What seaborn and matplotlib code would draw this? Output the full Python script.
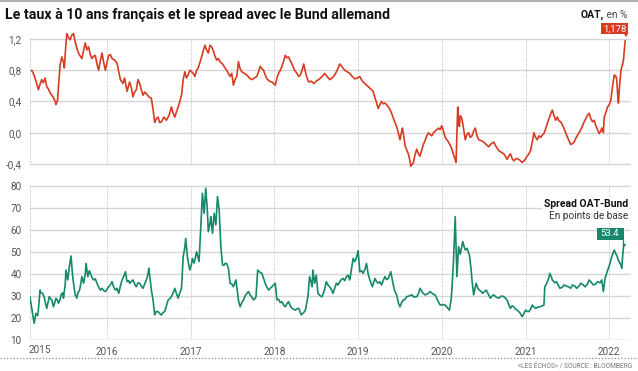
import matplotlib
matplotlib.use("Agg")
import matplotlib.pyplot as plt
import seaborn as sns
import pandas as pd
from matplotlib.lines import Line2D
from matplotlib.patches import Rectangle, Polygon

# ---------------- data (decimal year, value) ----------------
oat = [
 (2015.10,0.80),(2015.12,0.76),(2015.14,0.70),(2015.16,0.63),(2015.18,0.55),(2015.20,0.62),
 (2015.22,0.68),(2015.24,0.64),(2015.26,0.70),(2015.28,0.59),(2015.30,0.56),(2015.32,0.51),
 (2015.34,0.48),(2015.36,0.45),(2015.38,0.40),(2015.39,0.36),(2015.41,0.42),(2015.42,0.59),
 (2015.44,0.87),(2015.46,0.97),(2015.48,0.90),(2015.49,0.83),(2015.51,1.15),(2015.52,1.27),
 (2015.54,1.22),(2015.56,1.19),(2015.58,1.25),(2015.60,1.27),(2015.62,1.16),(2015.64,1.08),
 (2015.66,1.02),(2015.68,0.98),(2015.70,0.95),(2015.72,1.05),(2015.74,1.15),(2015.76,1.06),
 (2015.78,1.10),(2015.80,1.00),(2015.82,0.95),(2015.84,0.98),(2015.86,0.99),(2015.88,0.88),
 (2015.90,0.80),(2015.92,0.92),(2015.94,1.02),(2015.96,0.90),(2015.98,0.80),(2016.00,0.90),
 (2016.02,0.99),(2016.04,1.00),(2016.06,0.95),(2016.09,0.93),(2016.12,0.89),(2016.14,0.78),
 (2016.16,0.68),(2016.19,0.63),(2016.21,0.70),(2016.24,0.53),(2016.27,0.65),(2016.29,0.58),
 (2016.31,0.46),(2016.33,0.52),(2016.35,0.55),(2016.37,0.68),(2016.39,0.63),(2016.41,0.55),
 (2016.43,0.48),(2016.45,0.52),(2016.47,0.50),(2016.50,0.46),(2016.53,0.44),(2016.55,0.30),
 (2016.57,0.13),(2016.59,0.18),(2016.61,0.20),(2016.63,0.13),(2016.65,0.14),(2016.68,0.20),
 (2016.71,0.16),(2016.74,0.22),(2016.77,0.33),(2016.79,0.25),(2016.81,0.20),(2016.83,0.27),
 (2016.85,0.33),(2016.87,0.40),(2016.89,0.48),(2016.91,0.68),(2016.93,0.78),(2016.95,0.70),
 (2016.97,0.74),(2016.99,0.80),(2017.01,0.78),(2017.03,0.76),(2017.05,0.72),(2017.07,0.80),
 (2017.09,0.83),(2017.11,0.90),(2017.13,0.97),(2017.15,1.05),(2017.17,1.12),(2017.19,1.06),
 (2017.21,1.02),(2017.23,1.12),(2017.25,1.10),(2017.27,1.05),(2017.29,0.98),(2017.31,0.93),
 (2017.33,0.95),(2017.35,0.91),(2017.38,0.88),(2017.41,0.83),(2017.44,0.78),(2017.47,0.72),
 (2017.49,0.76),(2017.51,0.61),(2017.53,0.68),(2017.55,0.72),(2017.57,0.91),(2017.59,0.82),
 (2017.61,0.78),(2017.64,0.76),(2017.67,0.74),(2017.70,0.70),(2017.73,0.68),(2017.76,0.70),
 (2017.79,0.72),(2017.81,0.78),(2017.83,0.85),(2017.85,0.82),(2017.87,0.80),(2017.89,0.74),
 (2017.91,0.69),(2017.94,0.66),(2017.97,0.65),(2017.99,0.63),(2018.01,0.61),(2018.03,0.70),
 (2018.05,0.76),(2018.07,0.80),(2018.09,0.85),(2018.11,0.92),(2018.13,0.99),(2018.15,0.96),
 (2018.17,0.97),(2018.19,0.92),(2018.21,0.88),(2018.24,0.80),(2018.27,0.76),(2018.29,0.72),
 (2018.31,0.74),(2018.33,0.80),(2018.35,0.88),(2018.37,0.78),(2018.39,0.70),(2018.41,0.65),
 (2018.44,0.66),(2018.47,0.63),(2018.50,0.66),(2018.54,0.69),(2018.57,0.72),(2018.60,0.76),
 (2018.63,0.72),(2018.66,0.68),(2018.69,0.70),(2018.72,0.74),(2018.75,0.80),(2018.78,0.88),
 (2018.81,0.84),(2018.84,0.80),(2018.87,0.78),(2018.90,0.76),(2018.93,0.72),(2018.96,0.69),
 (2018.99,0.70),(2019.02,0.72),(2019.05,0.66),(2019.08,0.63),(2019.11,0.60),(2019.14,0.57),
 (2019.16,0.55),(2019.18,0.53),(2019.20,0.45),(2019.21,0.42),(2019.24,0.31),(2019.26,0.36),
 (2019.28,0.40),(2019.30,0.37),(2019.32,0.38),(2019.34,0.36),(2019.36,0.33),(2019.38,0.30),
 (2019.40,0.25),(2019.43,0.16),(2019.46,0.08),(2019.48,0.00),(2019.50,-0.09),(2019.52,0.02),
 (2019.53,0.06),(2019.55,-0.08),(2019.56,-0.16),(2019.58,-0.22),(2019.60,-0.27),(2019.62,-0.36),
 (2019.63,-0.43),(2019.65,-0.40),(2019.66,-0.38),(2019.68,-0.28),(2019.70,-0.21),(2019.72,-0.27),
 (2019.74,-0.30),(2019.76,-0.22),(2019.78,-0.15),(2019.80,-0.10),(2019.82,-0.04),(2019.84,0.00),
 (2019.86,-0.02),(2019.88,-0.04),(2019.90,0.00),(2019.92,0.02),(2019.94,0.04),(2019.96,0.06),
 (2019.98,0.04),(2020.00,0.09),(2020.02,0.02),(2020.04,-0.06),(2020.06,-0.09),(2020.08,-0.12),
 (2020.10,-0.16),(2020.12,-0.21),(2020.14,-0.28),(2020.16,-0.34),(2020.17,-0.38),(2020.19,0.33),
 (2020.20,0.15),(2020.21,0.08),(2020.22,0.22),(2020.24,0.18),(2020.26,0.05),(2020.28,-0.09),
 (2020.30,-0.02),(2020.32,0.00),(2020.34,-0.06),(2020.36,-0.04),(2020.38,0.02),(2020.40,0.06),
 (2020.42,-0.04),(2020.44,-0.09),(2020.47,-0.10),(2020.50,-0.12),(2020.53,-0.15),(2020.56,-0.18),
 (2020.59,-0.14),(2020.62,-0.12),(2020.65,-0.18),(2020.68,-0.23),(2020.71,-0.25),(2020.74,-0.27),
 (2020.76,-0.30),(2020.78,-0.34),(2020.80,-0.30),(2020.82,-0.27),(2020.84,-0.33),(2020.86,-0.36),
 (2020.89,-0.33),(2020.92,-0.34),(2020.94,-0.36),(2020.96,-0.38),(2020.99,-0.35),(2021.02,-0.30),
 (2021.04,-0.27),(2021.06,-0.23),(2021.08,-0.12),(2021.10,0.00),(2021.12,-0.06),(2021.14,-0.09),
 (2021.16,-0.04),(2021.18,-0.06),(2021.20,-0.03),(2021.22,-0.01),(2021.24,0.05),(2021.26,0.12),
 (2021.28,0.18),(2021.30,0.24),(2021.32,0.29),(2021.34,0.22),(2021.36,0.16),(2021.38,0.20),
 (2021.40,0.15),(2021.42,0.14),(2021.45,0.08),(2021.48,0.00),(2021.51,-0.08),(2021.54,-0.15),
 (2021.56,-0.14),(2021.58,-0.12),(2021.61,-0.05),(2021.64,0.00),(2021.67,0.06),(2021.70,0.14),
 (2021.72,0.18),(2021.74,0.22),(2021.76,0.25),(2021.78,0.18),(2021.80,0.14),(2021.82,0.16),
 (2021.84,0.09),(2021.86,0.04),(2021.88,-0.01),(2021.90,0.02),(2021.91,0.06),(2021.93,0.00),
 (2021.94,0.20),(2021.96,0.26),(2021.98,0.33),(2022.00,0.36),(2022.02,0.42),(2022.04,0.60),
 (2022.06,0.74),(2022.08,0.72),(2022.09,0.68),(2022.10,0.50),(2022.11,0.38),(2022.12,0.55),
 (2022.14,0.80),(2022.16,0.88),(2022.17,0.93),(2022.18,1.05),(2022.19,1.178),
]

spread = [
 (2015.08,29.7),(2015.09,27.0),(2015.11,22.1),(2015.13,17.6),(2015.15,22.1),(2015.17,21.0),
 (2015.18,23.6),(2015.20,32.7),(2015.21,31.5),(2015.23,31.2),(2015.25,29.5),(2015.26,27.4),
 (2015.28,24.4),(2015.30,28.0),(2015.31,29.7),(2015.33,28.6),(2015.34,28.2),(2015.36,25.1),
 (2015.38,27.5),(2015.39,29.0),(2015.41,28.0),(2015.42,26.7),(2015.44,28.5),(2015.45,30.5),
 (2015.47,31.5),(2015.48,29.0),(2015.50,35.0),(2015.51,41.8),(2015.53,37.3),(2015.55,43.3),
 (2015.57,48.2),(2015.59,38.8),(2015.61,33.0),(2015.62,30.5),(2015.64,29.0),(2015.65,31.2),
 (2015.67,32.5),(2015.68,34.2),(2015.70,38.8),(2015.72,35.8),(2015.74,40.0),(2015.75,44.8),
 (2015.77,38.8),(2015.79,41.5),(2015.80,40.3),(2015.82,38.5),(2015.84,37.3),(2015.86,37.8),
 (2015.88,35.8),(2015.90,34.0),(2015.92,32.7),(2015.94,33.5),(2015.96,32.5),(2015.98,32.0),
 (2016.00,33.0),(2016.02,34.2),(2016.04,35.0),(2016.06,36.5),(2016.08,34.0),(2016.10,32.7),
 (2016.12,33.5),(2016.14,31.2),(2016.16,34.5),(2016.18,37.3),(2016.20,39.0),(2016.22,41.0),
 (2016.24,36.5),(2016.26,37.0),(2016.27,35.8),(2016.29,36.5),(2016.31,37.3),(2016.33,35.5),
 (2016.35,34.2),(2016.37,36.0),(2016.39,35.8),(2016.41,34.5),(2016.43,33.5),(2016.45,35.5),
 (2016.47,37.3),(2016.49,40.0),(2016.50,42.6),(2016.52,36.0),(2016.53,32.7),(2016.55,28.2),
 (2016.57,21.4),(2016.59,23.0),(2016.61,22.9),(2016.63,22.0),(2016.65,21.4),(2016.67,22.5),
 (2016.69,22.9),(2016.71,25.5),(2016.73,28.2),(2016.75,28.8),(2016.77,29.7),(2016.79,31.5),
 (2016.81,33.5),(2016.83,31.0),(2016.85,29.0),(2016.87,31.5),(2016.89,33.5),(2016.91,47.9),
 (2016.93,52.0),(2016.94,56.2),(2016.96,47.9),(2016.98,43.5),(2016.99,41.8),(2017.01,44.5),
 (2017.02,47.1),(2017.04,45.0),(2017.05,46.4),(2017.07,50.1),(2017.09,47.0),(2017.10,45.6),
 (2017.12,60.8),(2017.14,76.7),(2017.15,72.0),(2017.16,67.6),(2017.18,79.0),(2017.20,68.0),
 (2017.21,59.2),(2017.23,63.0),(2017.24,66.1),(2017.26,58.5),(2017.28,67.6),(2017.30,62.3),
 (2017.32,75.2),(2017.34,69.1),(2017.36,52.4),(2017.38,44.1),(2017.40,44.0),(2017.41,44.8),
 (2017.43,44.8),(2017.45,42.6),(2017.47,35.8),(2017.49,35.5),(2017.51,34.2),(2017.54,37.3),
 (2017.57,28.2),(2017.59,25.1),(2017.61,27.0),(2017.63,28.2),(2017.65,30.0),(2017.67,31.2),
 (2017.69,32.0),(2017.71,30.5),(2017.73,29.5),(2017.75,28.2),(2017.77,29.0),(2017.78,29.7),
 (2017.80,41.8),(2017.82,41.0),(2017.85,40.3),(2017.87,38.0),(2017.89,35.8),(2017.91,34.0),
 (2017.93,32.7),(2017.95,33.5),(2017.97,34.2),(2017.99,35.0),(2018.01,35.8),(2018.03,28.2),
 (2018.05,28.5),(2018.07,27.0),(2018.09,27.4),(2018.11,26.0),(2018.13,25.1),(2018.15,26.5),
 (2018.17,27.4),(2018.19,25.5),(2018.21,24.4),(2018.23,24.0),(2018.25,23.6),(2018.27,24.2),
 (2018.29,24.4),(2018.31,22.5),(2018.32,21.4),(2018.35,22.5),(2018.37,23.6),(2018.40,29.7),
 (2018.42,38.8),(2018.44,36.0),(2018.45,34.2),(2018.46,41.8),(2018.48,35.8),(2018.50,39.5),
 (2018.52,31.2),(2018.55,30.0),(2018.57,29.7),(2018.60,33.0),(2018.62,36.5),(2018.64,35.0),
 (2018.66,34.2),(2018.68,33.0),(2018.70,31.2),(2018.72,33.5),(2018.74,35.8),(2018.76,35.0),
 (2018.78,36.5),(2018.80,37.5),(2018.82,38.0),(2018.84,37.0),(2018.86,38.8),(2018.88,39.5),
 (2018.90,37.3),(2018.92,42.0),(2018.94,47.1),(2018.96,45.6),(2018.98,47.5),(2019.00,50.6),
 (2019.02,41.0),(2019.04,41.5),(2019.06,40.3),(2019.08,42.0),(2019.10,44.8),(2019.12,40.0),
 (2019.14,37.3),(2019.17,34.2),(2019.20,38.0),(2019.22,36.5),(2019.24,35.8),(2019.26,36.5),
 (2019.28,35.0),(2019.30,37.0),(2019.32,38.8),(2019.34,37.5),(2019.36,38.0),(2019.39,41.0),
 (2019.42,35.0),(2019.44,32.0),(2019.46,30.5),(2019.48,27.0),(2019.50,25.1),(2019.52,27.0),
 (2019.54,28.2),(2019.56,28.5),(2019.58,29.7),(2019.61,30.0),(2019.64,30.5),(2019.67,29.5),
 (2019.70,29.7),(2019.72,31.0),(2019.74,33.5),(2019.77,31.5),(2019.80,30.5),(2019.83,31.0),
 (2019.86,32.0),(2019.89,31.0),(2019.92,30.5),(2019.95,28.0),(2019.98,25.9),(2020.01,26.0),
 (2020.04,25.9),(2020.07,24.5),(2020.09,23.6),(2020.11,28.0),(2020.12,32.7),(2020.14,46.4),
 (2020.16,66.1),(2020.18,38.8),(2020.20,52.4),(2020.22,49.0),(2020.23,50.9),(2020.25,54.7),
 (2020.27,52.0),(2020.28,50.9),(2020.30,51.7),(2020.33,48.6),(2020.35,42.0),(2020.36,37.3),
 (2020.38,30.5),(2020.40,34.0),(2020.41,35.8),(2020.43,33.5),(2020.45,32.7),(2020.47,32.0),
 (2020.49,31.2),(2020.51,32.0),(2020.53,32.7),(2020.56,30.5),(2020.58,29.0),(2020.60,30.0),
 (2020.62,30.5),(2020.65,29.5),(2020.68,29.0),(2020.71,30.0),(2020.74,29.7),(2020.76,29.0),
 (2020.78,28.2),(2020.80,26.0),(2020.82,24.4),(2020.84,25.5),(2020.86,25.1),(2020.88,24.0),
 (2020.90,23.6),(2020.93,22.5),(2020.96,20.6),(2020.98,22.0),(2021.00,23.6),(2021.02,23.0),
 (2021.04,22.9),(2021.06,24.0),(2021.08,25.9),(2021.10,25.0),(2021.12,24.4),(2021.15,25.0),
 (2021.17,25.1),(2021.20,25.5),(2021.22,25.9),(2021.23,34.2),(2021.25,35.5),(2021.26,36.5),
 (2021.28,38.5),(2021.29,40.3),(2021.31,38.5),(2021.32,37.3),(2021.35,36.0),(2021.37,36.5),
 (2021.39,35.0),(2021.41,33.5),(2021.44,34.0),(2021.46,35.0),(2021.49,34.5),(2021.51,34.2),
 (2021.54,33.5),(2021.56,35.0),(2021.59,34.5),(2021.61,33.5),(2021.64,34.5),(2021.66,35.8),
 (2021.69,35.0),(2021.71,34.2),(2021.74,35.5),(2021.76,37.3),(2021.79,36.0),(2021.81,35.0),
 (2021.84,35.5),(2021.86,36.5),(2021.89,36.0),(2021.91,37.3),(2021.93,32.0),(2021.95,38.0),
 (2021.97,40.5),(2021.99,42.6),(2022.01,45.0),(2022.03,47.9),(2022.06,50.9),(2022.08,49.0),
 (2022.09,48.6),(2022.11,46.0),(2022.12,45.6),(2022.14,44.0),(2022.15,42.6),(2022.16,48.0),
 (2022.17,52.4),(2022.19,53.4),
]

oat_ticks = [-0.4, 0.0, 0.4, 0.8, 1.2]
oat_ticklabels = ["-0,4", "0,0", "0,4", "0,8", "1,2"]
spread_ticks = [10, 20, 30, 40, 50, 60, 70, 80]
year_ticks = [2016, 2017, 2018, 2019, 2020, 2021, 2022]
year_labels = ["2016", "2017", "2018", "2019", "2020", "2021", "2022"]
first_year_label = "2015"
oat_last_label = "1,178"
spread_last_label = "53.4"

title = "Le taux à 10 ans français et le spread avec le Bund allemand"

RED = "#d63c22"
GREEN = "#15896a"
GRID = "#d6d6d6"
VGRID = "#b8b8b8"
TICKC = "#555555"

# ---------------- figure ----------------
sns.set_theme(style="white")
plt.rcParams['font.family'] = ['Roboto', 'DejaVu Sans']

W, H = 638, 371
fig = plt.figure(figsize=(W / 100, H / 100), dpi=100)
fig.patch.set_facecolor("white")

def fx(px):
    return px / W

def fy(py):
    return 1 - py / H

XL, XR = 2015.08, 2022.26
ax1 = fig.add_axes([fx(30), fy(167.9), fx(601), (167.9 - 29.6) / H])
ax2 = fig.add_axes([fx(30), fy(340), fx(601), (340 - 183.8) / H])

df_oat = pd.DataFrame(oat, columns=["t", "v"])
df_spr = pd.DataFrame(spread, columns=["t", "v"])

for ax, ticks, ylim in [(ax1, oat_ticks, (-0.45, 1.32)), (ax2, spread_ticks, (10, 81))]:
    ax.set_xlim(XL, XR)
    ax.set_ylim(*ylim)
    for s in ax.spines.values():
        s.set_visible(False)
    for i, t in enumerate(ticks):
        col = "#c4c4c4" if (ax is ax2 and i == 0) else GRID
        ax.axhline(t, color=col, lw=1.0, zorder=1)
    for yr in [XL + 0.005] + year_ticks:
        ax.vlines(yr, ticks[0], ticks[-1], colors=VGRID, lw=0.7,
                  linestyles=(0, (1, 1.5)), zorder=1)
    ax.set_yticks(ticks)
    ax.tick_params(axis="both", length=0, labelsize=7.2, colors=TICKC, pad=6)
    ax.set_xlabel("")
    ax.set_ylabel("")

sns.lineplot(data=df_oat, x="t", y="v", ax=ax1, color=RED, lw=1.2,
             estimator=None, zorder=3)
sns.lineplot(data=df_spr, x="t", y="v", ax=ax2, color=GREEN, lw=1.2,
             estimator=None, zorder=3)

ax1.set_yticks(oat_ticks)
ax1.set_yticklabels(oat_ticklabels)
ax1.set_xticks([])
ax1.set_xlabel("")
ax1.set_ylabel("")
ax2.set_yticks(spread_ticks)
ax2.set_yticklabels([str(v) for v in spread_ticks])
ax2.set_xticks(year_ticks)
ax2.set_xticklabels(year_labels)
ax2.tick_params(axis="x", pad=5)
ax2.set_xlabel("")
ax2.set_ylabel("")
ax2.text(2015.20, -0.03, first_year_label, transform=ax2.get_xaxis_transform(),
         ha="center", va="top", fontsize=7.2, color=TICKC)

# ---------------- annotations ----------------
fig.add_artist(Line2D([0, 1], [fy(1), fy(1)], color="#b0b0b0", lw=1.5))
fig.text(fx(5), fy(15), title, fontsize=10.2, fontweight="bold", color="#111111",
         ha="left", va="center")

renderer = fig.canvas.get_renderer()
t_en = fig.text(fx(627), fy(15), " en %", fontsize=7.2, color="#444444",
                ha="right", va="center")
bb = t_en.get_window_extent(renderer)
fig.text(bb.x0 / W, fy(15), "OAT,", fontsize=7.5, fontweight="bold", color="#111111",
         ha="right", va="center")

# red value box
fig.add_artist(Rectangle((fx(601), fy(34)), fx(27), 11 / H, transform=fig.transFigure,
                         fc=RED, ec="none"))
fig.add_artist(Polygon([(fx(624), fy(34)), (fx(628), fy(34)), (fx(626), fy(37))],
                       closed=True, transform=fig.transFigure, fc=RED, ec="none"))
fig.text(fx(614.5), fy(28.7), oat_last_label, fontsize=6.8, color="white",
         ha="center", va="center")

# spread labels
fig.text(fx(628), fy(204), "Spread OAT-Bund", fontsize=7.5, fontweight="bold",
         color="#111111", ha="right", va="center",
         bbox=dict(fc="white", ec="none", pad=1.5))
fig.text(fx(628), fy(216), "En points de base", fontsize=7.2, color="#333333",
         ha="right", va="center", bbox=dict(fc="white", ec="none", pad=1.0))
fig.add_artist(Rectangle((fx(597), fy(240)), fx(26.5), 12 / H, transform=fig.transFigure,
                         fc=GREEN, ec="none"))
fig.add_artist(Line2D([fx(622.8), fx(622.8)], [fy(240), fy(246)], color=GREEN, lw=1.0))
fig.text(fx(610), fy(234), spread_last_label, fontsize=6.8, color="white",
         ha="center", va="center")

# footer
fig.add_artist(Line2D([0, 1], [fy(358), fy(358)], color="#8a8a8a", lw=0.9,
                      linestyle=(0, (1, 1.6))))
fig.text(fx(632), fy(365.5), "«LES ÉCHOS» / SOURCE : BLOOMBERG", fontsize=4.8,
         color="#777777", ha="right", va="center")

fig.savefig("out.png", dpi=100, facecolor="white")
